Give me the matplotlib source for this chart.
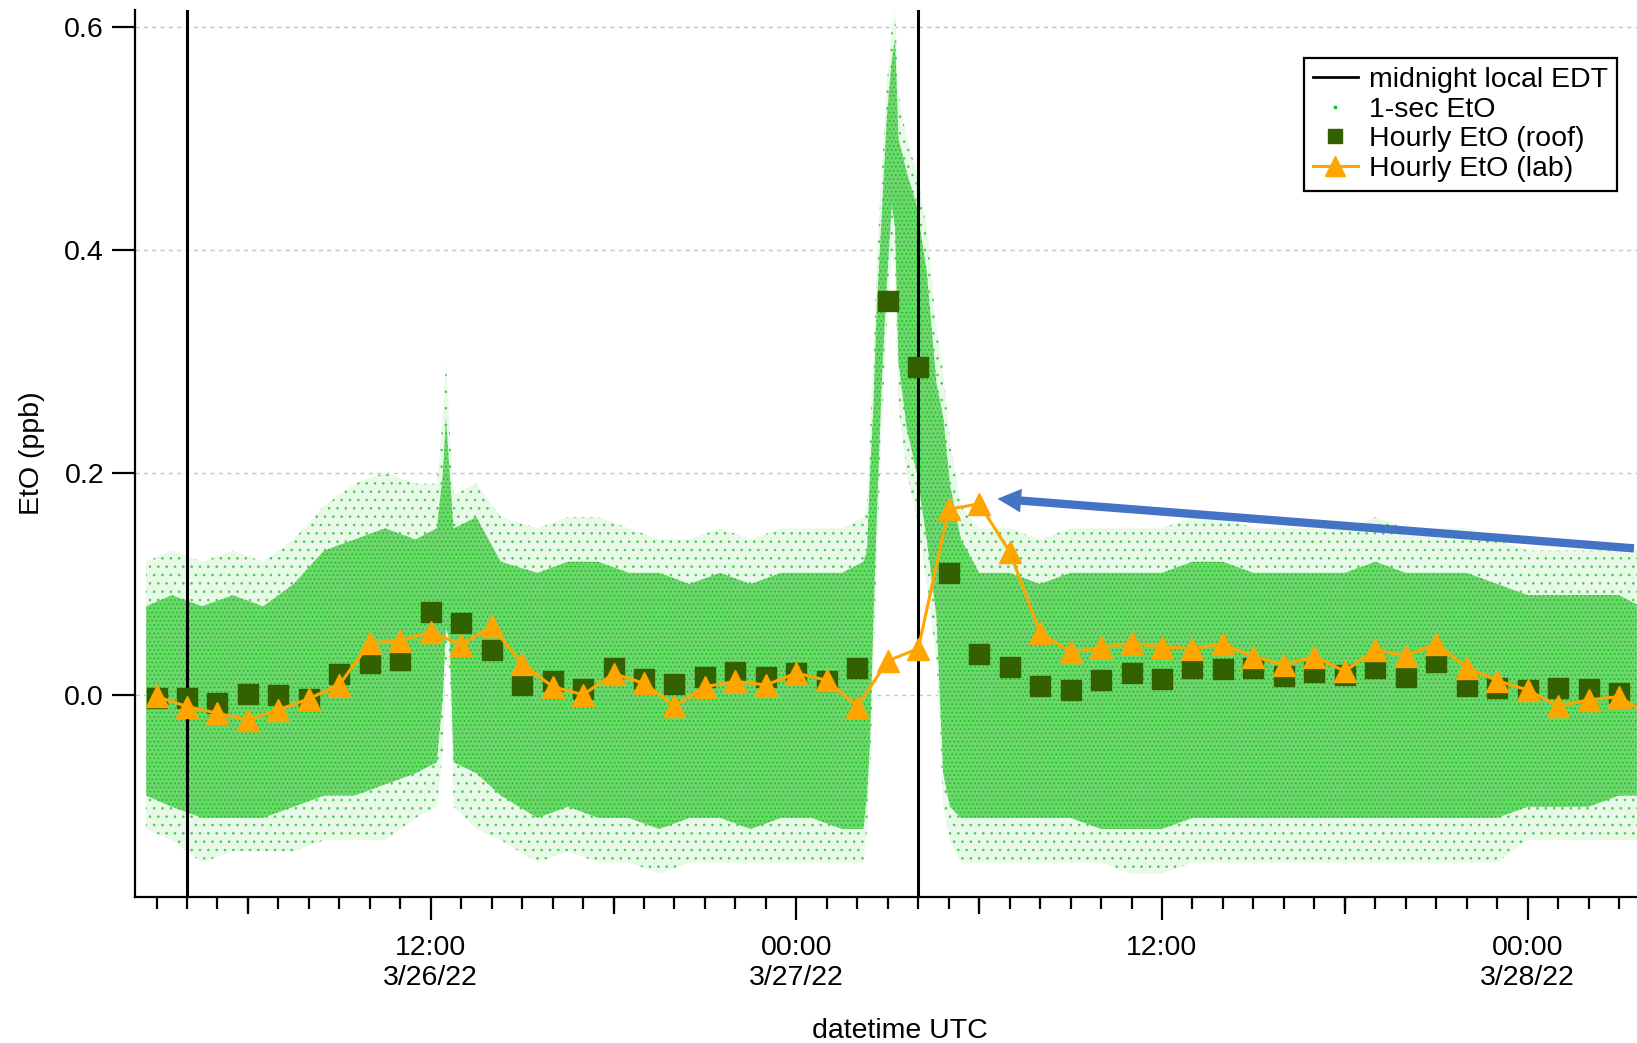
# -*- coding: utf-8 -*-
"""
EtO time series, 3/26/22 - 3/28/22 (UTC)
1-sec cloud (drawn as read-off envelopes) + hourly roof / lab averages
"""
import numpy as np
import pandas as pd
import matplotlib
matplotlib.use('Agg')
import matplotlib.pyplot as plt
import matplotlib.dates as mdates
from matplotlib.lines import Line2D

plt.rcParams['font.family'] = ['Liberation Sans', 'DejaVu Sans']
plt.rcParams['hatch.linewidth'] = 0.6

T0 = pd.Timestamp('2022-03-26 00:00')


def to_time(hours):
    """hours since 3/26/22 00:00 UTC -> datetime64 array"""
    return (T0 + pd.to_timedelta(np.asarray(hours, dtype=float), unit='h')).to_numpy()


# =====================================================================
# data (hours since 3/26/22 00:00 UTC)
# =====================================================================
roof_h = list(range(3, 52))
roof_eto = [-0.002, -0.002, -0.007, 0.0015, 0.000, -0.003, 0.019, 0.029, 0.032,
            0.075, 0.065, 0.041, 0.0096, 0.0126, 0.0057, 0.0246, 0.0147, 0.0105,
            0.0168, 0.021, 0.0168, 0.020, 0.0126, 0.025, 0.354, 0.295, 0.110,
            0.0375, 0.0255, 0.008, 0.005, 0.014, 0.020, 0.015, 0.0246, 0.024,
            0.0243, 0.017, 0.0213, 0.018, 0.0243, 0.0165, 0.030, 0.0087, 0.0066,
            0.005, 0.0066, 0.0054, 0.0018]

lab_h = list(range(3, 53))
lab_eto = [-0.001, -0.010, -0.016, -0.022, -0.013, -0.003, 0.0096, 0.047, 0.049,
           0.057, 0.0455, 0.062, 0.0285, 0.0078, 0.0006, 0.0195, 0.0108, -0.0095,
           0.0078, 0.0126, 0.0093, 0.020, 0.0135, -0.010, 0.031, 0.042, 0.167,
           0.172, 0.129, 0.0563, 0.039, 0.043, 0.0467, 0.0437, 0.042, 0.046,
           0.0348, 0.0276, 0.0348, 0.0216, 0.041, 0.0354, 0.0464, 0.025, 0.0132,
           0.0048, -0.0095, -0.004, -0.0012, -0.018]

# 1-sec EtO cloud: dense core and sparse outer edges
cloud_h = [2.66, 3.5, 4.5, 5.5, 6.5, 7.5, 8.5, 9.5, 10.5, 11.5, 12.2, 12.4, 12.5,
           12.62, 12.75, 13.5, 14.3, 15.5, 16.5, 17.5, 18.5, 19.5, 20.5, 21.5,
           22.5, 23.5, 24.5, 25.5, 26.2, 26.32, 26.42, 26.53, 26.64, 26.8, 26.97,
           27.13, 27.24, 27.35, 27.62, 27.95, 28.28, 28.6, 28.82, 29.04, 29.4,
           30, 31, 32, 33, 34, 35, 36, 37, 38, 39, 40, 41, 42, 43, 44, 45, 46,
           47, 48, 49, 50, 51, 51.7]
core_lo = [-0.09, -0.10, -0.11, -0.11, -0.11, -0.10, -0.09, -0.09, -0.08, -0.07,
           -0.06, 0.00, 0.06, 0.05, -0.06, -0.07, -0.09, -0.11, -0.10, -0.11,
           -0.11, -0.12, -0.11, -0.11, -0.12, -0.11, -0.11, -0.12, -0.12, -0.09,
           -0.04, 0.07, 0.16, 0.28, 0.37, 0.44, 0.42, 0.30, 0.24, 0.20, 0.14,
           0.07, -0.07, -0.10, -0.11, -0.11, -0.11, -0.11, -0.11, -0.12, -0.12,
           -0.12, -0.11, -0.11, -0.11, -0.11, -0.11, -0.11, -0.11, -0.11, -0.11,
           -0.11, -0.11, -0.10, -0.10, -0.10, -0.09, -0.09]
core_hi = [0.08, 0.09, 0.08, 0.09, 0.08, 0.10, 0.13, 0.14, 0.15, 0.14, 0.15, 0.20,
           0.25, 0.20, 0.15, 0.16, 0.12, 0.11, 0.12, 0.12, 0.11, 0.11, 0.10, 0.11,
           0.10, 0.11, 0.11, 0.11, 0.12, 0.13, 0.20, 0.26, 0.35, 0.43, 0.52, 0.57,
           0.59, 0.50, 0.47, 0.44, 0.38, 0.28, 0.25, 0.19, 0.14, 0.11, 0.11, 0.10,
           0.11, 0.11, 0.11, 0.11, 0.12, 0.12, 0.11, 0.11, 0.11, 0.11, 0.12, 0.11,
           0.11, 0.11, 0.10, 0.09, 0.09, 0.09, 0.09, 0.08]
outer_lo = [-0.12, -0.13, -0.15, -0.14, -0.14, -0.14, -0.13, -0.13, -0.13, -0.11,
            -0.10, -0.05, 0.03, 0.02, -0.10, -0.12, -0.13, -0.15, -0.14, -0.15,
            -0.15, -0.16, -0.15, -0.15, -0.15, -0.15, -0.15, -0.15, -0.15, -0.12,
            -0.07, 0.03, 0.12, 0.24, 0.33, 0.40, 0.38, 0.26, 0.20, 0.16, 0.10,
            0.03, -0.10, -0.13, -0.15, -0.15, -0.15, -0.15, -0.15, -0.15, -0.16,
            -0.16, -0.15, -0.15, -0.15, -0.15, -0.15, -0.15, -0.15, -0.15, -0.15,
            -0.15, -0.15, -0.13, -0.13, -0.13, -0.13, -0.13]
outer_hi = [0.12, 0.13, 0.12, 0.13, 0.12, 0.14, 0.17, 0.19, 0.20, 0.19, 0.19, 0.25,
            0.30, 0.24, 0.18, 0.19, 0.16, 0.15, 0.16, 0.16, 0.15, 0.14, 0.14, 0.15,
            0.14, 0.15, 0.15, 0.15, 0.16, 0.17, 0.24, 0.30, 0.39, 0.47, 0.55, 0.60,
            0.615, 0.54, 0.50, 0.47, 0.42, 0.33, 0.29, 0.23, 0.17, 0.15, 0.15, 0.14,
            0.15, 0.15, 0.15, 0.15, 0.16, 0.16, 0.15, 0.15, 0.15, 0.15, 0.16, 0.15,
            0.15, 0.15, 0.14, 0.13, 0.13, 0.13, 0.13, 0.13]

midnight_edt_h = [4, 28]                      # 00:00 EDT = 04:00 UTC
major_h = [12, 24, 36, 48]
major_labels = ['12:00\n3/26/22', '00:00\n3/27/22', '12:00', '00:00\n3/28/22']
mid_h = [6, 18, 30, 42]
minor_h = list(range(3, 52))

xlim_h = (2.295, 51.59)
ylim = (-0.181, 0.6153)

# arrow pointing at the lab peak
arrow_tip = (30.6, 0.1765)
arrow_tail = (51.49, 0.132)

GREEN = '#11c011'
ROOF = '#336100'
LAB = '#ffa500'
ARROW = '#4472c4'

# =====================================================================
# figure
# =====================================================================
fig = plt.figure(figsize=(16.37, 10.43), dpi=100)
ax = fig.add_axes([0.0825, 0.14, 0.9175, 0.8504])

# 1-sec cloud: sparse halo, then dense core (dotted texture)
t_cloud = to_time(cloud_h)
ax.fill_between(t_cloud, outer_lo, outer_hi, facecolor='#e9f9e9', edgecolor='#44cc44',
                hatch='..', lw=0, zorder=1)
ax.fill_between(t_cloud, core_lo, core_hi, facecolor='#6ed66e', edgecolor=GREEN,
                hatch='....', lw=0, zorder=1.2)

# midnight local EDT
for h in midnight_edt_h:
    ax.axvline(to_time([h])[0], color='k', lw=2.2, zorder=3)

# hourly roof / lab
ax.plot(to_time(roof_h), roof_eto, ls='none', marker='s', ms=14.5,
        color=ROOF, mec=ROOF, zorder=4)
ax.plot(to_time(lab_h), lab_eto, '-', color=LAB, lw=2.2, marker='^', ms=15.5,
        mec=LAB, zorder=5)

# annotation arrow
ax.annotate('', xy=(to_time([arrow_tip[0]])[0], arrow_tip[1]),
            xytext=(to_time([arrow_tail[0]])[0], arrow_tail[1]),
            arrowprops=dict(width=6, headwidth=17, headlength=17, shrink=0,
                            color=ARROW, lw=0),
            annotation_clip=False, zorder=6)

# axes / ticks
ax.set_xlim(to_time([xlim_h[0]])[0], to_time([xlim_h[1]])[0])
ax.set_ylim(*ylim)
for s in ['top', 'right']:
    ax.spines[s].set_visible(False)
for s in ['left', 'bottom']:
    ax.spines[s].set_linewidth(1.6)

ax.set_yticks([0.0, 0.2, 0.4, 0.6])
ax.set_yticklabels(['0.0', '0.2', '0.4', '0.6'])
ax.yaxis.grid(True, ls=(0, (3, 3)), color='#c4c4c4', lw=1.0, zorder=0)
ax.set_axisbelow(True)

ax.set_xticks(mdates.date2num(to_time(major_h)))
ax.set_xticklabels(major_labels)
ax.set_xticks(mdates.date2num(to_time(minor_h)), minor=True)
ax.tick_params(axis='both', which='major', direction='out', length=16.3,
               width=1.6, labelsize=20.5, pad=6)
ax.tick_params(axis='x', which='major', pad=11)
ax.tick_params(axis='x', which='minor', direction='out', length=8.4, width=1.6)
for t in ax.get_xticklabels():
    t.set_linespacing(1.2)

# 6-hourly medium ticks
sec = ax.secondary_xaxis('bottom')
sec.set_xticks(mdates.date2num(to_time(mid_h)))
sec.set_xticklabels([''] * len(mid_h))
sec.tick_params(direction='out', length=12.5, width=1.6)
sec.spines['bottom'].set_visible(False)

ax.set_xlabel('datetime UTC', fontsize=20.5)
ax.xaxis.set_label_coords(0.509, -0.137)
ax.set_ylabel('EtO (ppb)', fontsize=20.5)
ax.yaxis.set_label_coords(-0.0597, 0.5)

# legend
handles = [
    Line2D([], [], color='k', lw=2.0),
    Line2D([], [], ls='none', marker='s', ms=1.5, color=GREEN),
    Line2D([], [], ls='none', marker='s', ms=10, color=ROOF),
    Line2D([], [], color=LAB, lw=2.2, marker='^', ms=15, mec=LAB),
]
labels = ['midnight local EDT', '1-sec EtO', 'Hourly EtO (roof)', 'Hourly EtO (lab)']
leg = ax.legend(handles, labels, loc='upper right', bbox_to_anchor=(0.9867, 0.9455),
                fontsize=20.5, frameon=True, fancybox=False, framealpha=1,
                edgecolor='k', borderpad=0.3, labelspacing=0.13,
                handlelength=1.58, handletextpad=0.42, borderaxespad=0)
leg.get_frame().set_linewidth(1.6)
leg.set_zorder(10)

plt.savefig('out.png', dpi=100)
plt.close('all')
